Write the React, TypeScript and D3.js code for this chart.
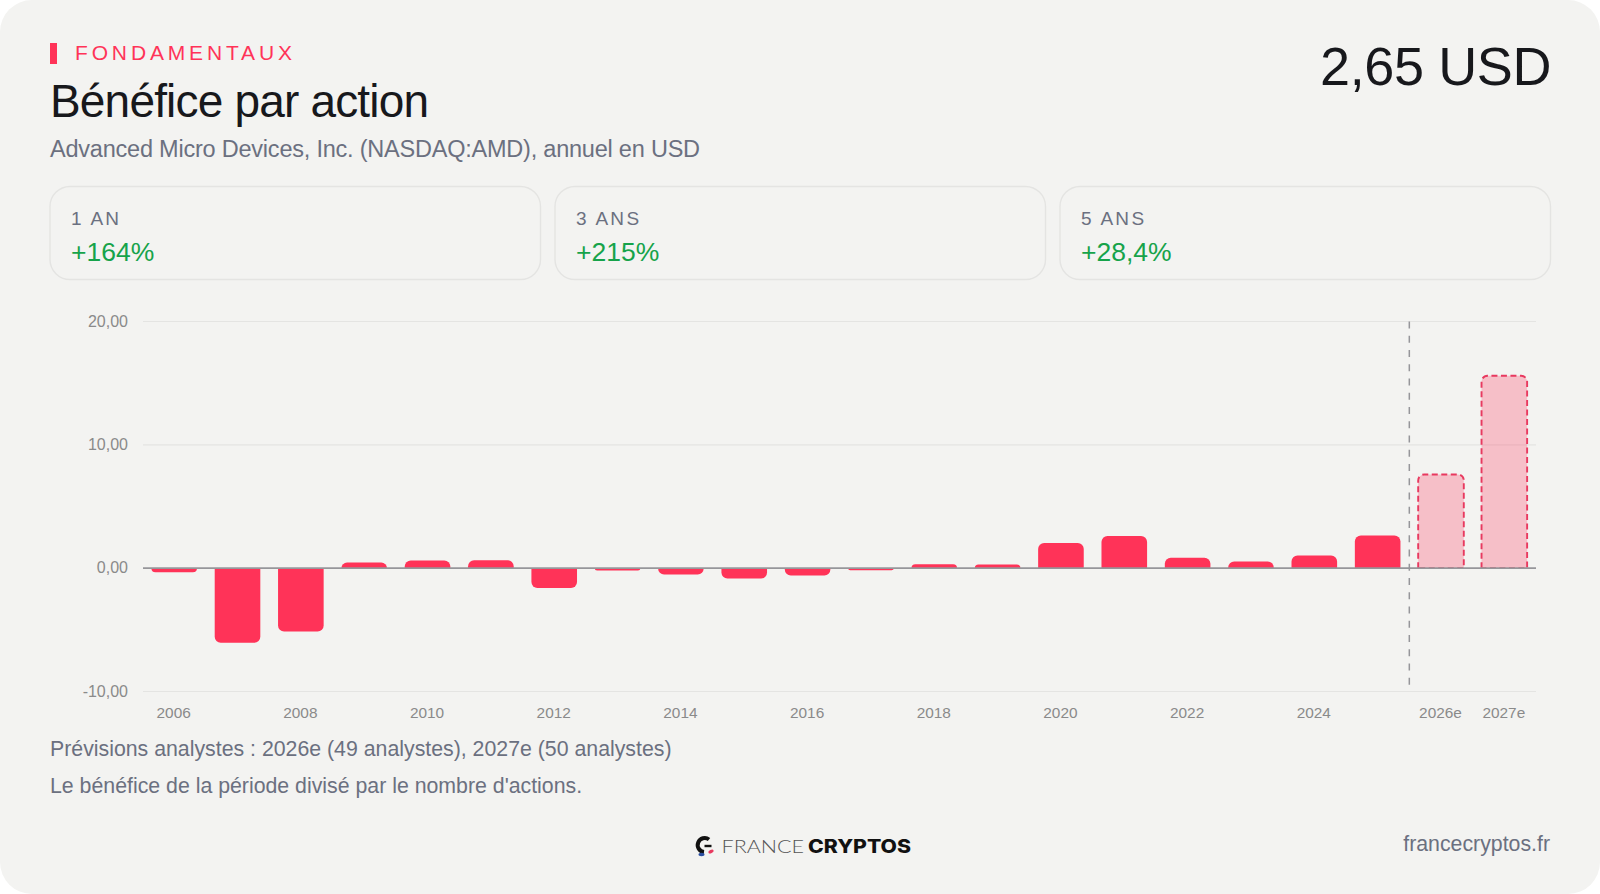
import * as d3 from "d3";

const years = ["2006","2007","2008","2009","2010","2011","2012","2013","2014","2015","2016","2017","2018","2019","2020","2021","2022","2023","2024","2025","2026e","2027e"];
const eps = [-0.33,-6.05,-5.13,0.46,0.62,0.65,-1.6,-0.19,-0.51,-0.84,-0.6,-0.17,0.32,0.3,2.05,2.6,0.84,0.54,1.03,2.65,7.6,15.6];
const yTicks = [-10, 0, 10, 20];
const xLabels = ["2006","2008","2010","2012","2014","2016","2018","2020","2022","2024","2026e","2027e"];
const periods = ["1 AN", "3 ANS", "5 ANS"];
const changes = ["+164%", "+215%", "+28,4%"];

const font = "'Liberation Sans', Arial, sans-serif";
const red = "#ff3358";

// barre avec coins arrondis seulement du côté opposé à zéro
function barPath(x: number, w: number, y0: number, y1: number, r: number) {
  const rr = Math.min(r, Math.abs(y1 - y0));
  const p = d3.path();
  p.moveTo(x, y0);
  p.arcTo(x, y1, x + rr, y1, rr);
  p.arcTo(x + w, y1, x + w, y1 + (y0 - y1), rr);
  p.lineTo(x + w, y0);
  p.closePath();
  return p.toString();
}

const App = () => {
  const x = d3.scaleBand<string>().domain(years).range([142.5, 1536]).paddingInner(0.28).paddingOuter(0.14);
  const y = d3.scaleLinear().domain([-10, 20]).range([691.5, 321.5]);
  const fmt = (v: number) => v.toFixed(2).replace(".", ",");
  const forecastX = (x("2025")! + x.bandwidth() + x("2026e")!) / 2;

  return (
    <svg width={1600} height={894} style={{ position: "absolute", left: 0, top: 0, fontFamily: font }}>
      <rect width={1600} height={894} fill="#ffffff" />
      <rect width={1600} height={894} rx={32} fill="#f3f3f1" />

      <rect x={50} y={43} width={7} height={21} fill={red} />
      <text x={75} y={60} fontSize={21} letterSpacing={3.85} fill={red}>FONDAMENTAUX</text>
      <text x={50} y={117} fontSize={46} letterSpacing={-0.82} fill="#17181c">Bénéfice par action</text>
      <text x={50} y={156.5} fontSize={23.5} letterSpacing={-0.22} fill="#6b7080">Advanced Micro Devices, Inc. (NASDAQ:AMD), annuel en USD</text>
      <text x={1551} y={85} fontSize={54} textAnchor="end" letterSpacing={-0.4} fill="#17181c">2,65 USD</text>

      {periods.map((p, i) => {
        const cx = 49.5 + i * 505;
        return (
          <g key={p}>
            <rect x={cx + 0.5} y={186.5} width={490.5} height={93} rx={20} fill="none" stroke="#e4e4e2" strokeWidth={1.4} />
            <text x={cx + 21.5} y={225} fontSize={19} letterSpacing={2.3} fill="#6b7080">{p}</text>
            <text x={cx + 21.5} y={261} fontSize={26.5} fill="#16a34a">{changes[i]}</text>
          </g>
        );
      })}

      {yTicks.filter(t => t !== 0).map(t => (
        <line key={t} x1={143} x2={1536} y1={y(t)} y2={y(t)} stroke="#e4e4e2" strokeWidth={1.2} />
      ))}
      {yTicks.map(t => (
        <text key={t} x={128} y={y(t) + 5} fontSize={16} textAnchor="end" fill="#8a8a8a">{fmt(t)}</text>
      ))}

      {years.map((yr, i) => {
        const isEst = yr.endsWith("e");
        const d = barPath(x(yr)!, x.bandwidth(), y(0), y(eps[i]), 6);
        return isEst
          ? <path key={yr} d={d} fill={red} fillOpacity={0.27} stroke="#e8395f" strokeWidth={1.9} strokeDasharray="6 3.5" />
          : <path key={yr} d={d} fill={red} />;
      })}

      <line x1={143} x2={1536} y1={y(0)} y2={y(0)} stroke="#96969a" strokeWidth={1.6} />
      <line x1={forecastX} x2={forecastX} y1={y(20)} y2={685} stroke="#96969a" strokeWidth={1.5} strokeDasharray="7 7.25" />

      {xLabels.map(l => (
        <text key={l} x={x(l)! + x.bandwidth() / 2 - 0.5} y={718} fontSize={15.4} textAnchor="middle" fill="#8a8a8a">{l}</text>
      ))}

      <text x={50} y={756} fontSize={21.3} fill="#6b7080">Prévisions analystes : 2026e (49 analystes), 2027e (50 analystes)</text>
      <text x={50} y={793} fontSize={21.3} fill="#6b7080">Le bénéfice de la période divisé par le nombre d'actions.</text>

      <g>
        <path d="M709 839.5 A7 7 0 1 0 704 852" fill="none" stroke="#111" strokeWidth={4} />
        <path d="M704.5 846 H711.5" stroke="#111" strokeWidth={2.4} />
        <ellipse cx={701.5} cy={854.5} rx={3} ry={1.7} fill="#2b4ea0" />
        <ellipse cx={711} cy={851.5} rx={2.8} ry={1.7} transform="rotate(-25 711 851.5)" fill="#e8395f" />
        <text x={721.5} y={853.3} fontSize={18.5} fontWeight={300} fontFamily="Lato, sans-serif" textLength={82.5} lengthAdjust="spacingAndGlyphs" fill="#555">FRANCE</text>
        <text x={808} y={853.3} fontSize={18.5} fontWeight={800} fontFamily="Inter, sans-serif" textLength={103} lengthAdjust="spacingAndGlyphs" fill="#111">CRYPTOS</text>
      </g>
      <text x={1550} y={851} fontSize={21.3} textAnchor="end" fill="#6b7080">francecryptos.fr</text>
    </svg>
  );
};

export default App;
